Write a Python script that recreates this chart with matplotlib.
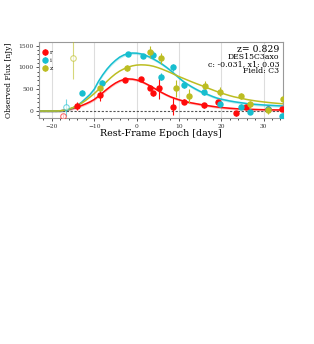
import matplotlib
matplotlib.use("Agg")
import matplotlib.pyplot as plt
from matplotlib.ticker import MultipleLocator
import numpy as np

plt.rcParams['font.family'] = ['DejaVu Serif']

# ---- data ----
r_t = [-14.0, -8.7, -2.75, 1.0, 3.2, 3.8, 5.2, 8.6, 11.2, 16.0, 19.2, 23.5, 25.8, 31.1, 34.4]
r_f = [115, 367, 711, 727, 535, 405, 520, 100, 214, 130, 200, -53, 85, 38, 46]
r_e = [100, 140, 50, 50, 60, 60, 250, 190, 60, 50, 50, 60, 50, 50, 50]
r_bad_t = [-17.3]
r_bad_f = [-115]
r_bad_e = [40]

i_t = [-12.9, -8.2, -2.1, 1.6, 3.8, 5.8, 8.6, 11.2, 16.0, 19.8, 24.6, 26.8, 31.1, 34.4]
i_f = [420, 650, 1307, 1262, 1285, 787, 1002, 596, 429, 160, 100, -15, 53, -115]
i_e = [60, 60, 50, 50, 80, 80, 80, 70, 60, 60, 60, 60, 60, 60]
i_bad_t = [-16.7]
i_bad_f = [85]
i_bad_e = [200]

z_t = [-8.7, -2.2, 3.2, 5.8, 9.3, 12.3, 16.2, 19.7, 24.6, 26.8, 31.1, 34.5]
z_f = [535, 979, 1360, 1208, 520, 344, 580, 440, 344, 160, 23, 275]
z_e = [80, 70, 140, 130, 200, 150, 100, 100, 80, 80, 100, 100]
z_bad_t = [-15.1]
z_bad_f = [1208]
z_bad_e = [480]

model_t = [-23, -22, -21, -20, -19, -18, -17, -16, -15, -14, -13, -12, -11, -10, -9, -8, -7,
           -6, -5, -4, -3, -2, -1, 0, 1, 2, 3, 4, 5, 6, 7, 8, 9, 10, 11, 12, 13, 14, 15,
           16, 17, 18, 19, 20, 21, 22, 23, 24, 25, 26, 27, 28, 29, 30, 31, 32, 33, 34.5]
model_r = [0, 0, 0, 0, 1, 5, 18, 35, 60, 90, 125, 165, 210, 265, 340, 420, 500,
           575, 640, 690, 722, 735, 730, 712, 680, 635, 585, 530, 475, 420, 370, 325, 290, 258,
           230, 205, 185, 168, 150, 135, 120, 105, 92, 81, 72, 63, 56, 50, 45, 41, 38, 35, 32,
           30, 28, 26, 25, 23]
model_i = [0, 0, 0, 0, 1, 5, 15, 38, 75, 130, 200, 290, 380, 500, 680, 830, 960,
           1070, 1160, 1235, 1285, 1315, 1328, 1325, 1310, 1280, 1240, 1190, 1135, 1075, 1005,
           930, 845, 760, 680, 615, 555, 500, 450, 410, 370, 330, 295, 270, 250, 230, 213, 198,
           185, 170, 160, 152, 145, 138, 132, 127, 122, 115]
model_z = [0, 0, 0, 0, 1, 5, 20, 45, 80, 125, 180, 245, 320, 400, 490, 585, 680,
           770, 850, 915, 965, 1005, 1035, 1052, 1058, 1055, 1045, 1025, 995, 960, 920, 880,
           835, 790, 750, 710, 670, 632, 595, 560, 520, 482, 445, 412, 382, 352, 326, 305, 285,
           265, 248, 233, 220, 208, 197, 187, 178, 165]
band_r = 28
band_i = 32

labels = ['r', 'i', 'z']
colors = ['#ff0a0a', '#17becf', '#bcbd22']

# ---- plot ----
fig = plt.figure(figsize=(3.14, 3.44), dpi=100)
ax = fig.add_axes([0.125, 0.657, 0.775, 0.222])

mt = np.array(model_t)
ax.fill_between(mt, np.array(model_r) - band_r, np.array(model_r) + band_r,
                color=colors[0], alpha=0.25, lw=0)
ax.fill_between(mt, np.array(model_i) - band_i, np.array(model_i) + band_i,
                color=colors[1], alpha=0.25, lw=0)
ax.plot(mt, model_r, color=colors[0], lw=1.1)
ax.plot(mt, model_i, color=colors[1], lw=1.1)
ax.plot(mt, model_z, color=colors[2], lw=1.1)

series = [(r_t, r_f, r_e, r_bad_t, r_bad_f, r_bad_e),
          (i_t, i_f, i_e, i_bad_t, i_bad_f, i_bad_e),
          (z_t, z_f, z_e, z_bad_t, z_bad_f, z_bad_e)]
for (t, f, e, bt, bf, be), lab, c in zip(series, labels, colors):
    ax.errorbar(t, f, yerr=e, fmt='o', color=c, ms=3.6, elinewidth=0.8, capsize=0,
                label=lab, zorder=5)
    ax.errorbar(bt, bf, yerr=be, fmt='o', mfc='white', mec=c, ecolor=c, ms=4,
                mew=0.8, elinewidth=0.8, capsize=0, alpha=0.6, zorder=4)

ax.axhline(0, color='#555555', ls='--', lw=0.8, dashes=(2, 1.5), zorder=1)
ax.set_xlim(-23, 34.5)
ax.set_ylim(-160, 1590)
ax.xaxis.set_major_locator(MultipleLocator(10))
ax.xaxis.set_minor_locator(MultipleLocator(2))
ax.yaxis.set_major_locator(MultipleLocator(500))
ax.yaxis.set_minor_locator(MultipleLocator(100))
ax.grid(axis='x', which='major', color='#dddddd', lw=0.8, zorder=0)
ax.set_axisbelow(True)
ax.tick_params(labelsize=4.2, length=2.5, width=0.6, colors='#333333', pad=1.5)
ax.tick_params(which='minor', length=1.5, width=0.5)
for s in ax.spines.values():
    s.set_color('#999999')
    s.set_linewidth(0.8)

ax.set_xlabel('Rest-Frame Epoch [days]', fontsize=6.8)
ax.xaxis.set_label_coords(0.498, -0.15)
ax.set_ylabel('Observed Flux [nJy]', fontsize=5.4)
ax.yaxis.set_label_coords(-0.108, 0.5)

tx = 0.987
ax.text(tx, 0.891, 'z= 0.829', transform=ax.transAxes, ha='right', va='center', fontsize=6.7)
ax.text(tx, 0.793, 'DES15C3axo', transform=ax.transAxes, ha='right', va='center', fontsize=5.6)
ax.text(tx, 0.704, 'c: -0.031, x1: 0.03', transform=ax.transAxes, ha='right', va='center', fontsize=5.6)
ax.text(tx, 0.612, 'Field: C3', transform=ax.transAxes, ha='right', va='center', fontsize=5.6)

ax.legend(loc='upper left', bbox_to_anchor=(0.0, 0.93), fontsize=4.5, frameon=False,
          handlelength=1.0, handletextpad=0.3, labelspacing=0.45, borderaxespad=0.0,
          borderpad=0.4)

fig.savefig('out.png', dpi=100)
